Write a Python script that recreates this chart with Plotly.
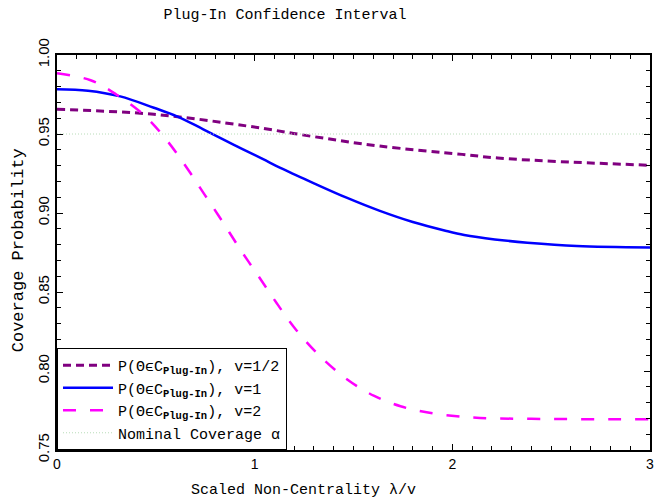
import plotly.graph_objects as go

# ---- data ----
x_half = [0.0, 0.49, 0.965, 1.30, 1.63, 2.05, 2.23, 2.55, 3.0]
y_half = [0.9656, 0.9625, 0.9550, 0.9483, 0.9424, 0.9371, 0.9348, 0.9325, 0.9302]

x_one = [0.0, 0.157, 0.32, 0.49, 0.607, 0.74, 0.89, 1.04, 1.13, 1.30, 1.465, 1.63,
         1.80, 1.965, 2.06, 2.215, 2.38, 2.63, 3.0]
y_one = [0.9783, 0.9774, 0.9738, 0.9666, 0.9612, 0.9530, 0.9435, 0.9342, 0.9285, 0.9188,
         0.9097, 0.9015, 0.8943, 0.8888, 0.8861, 0.8833, 0.8812, 0.8791, 0.8782]

x_two = [0.0, 0.17, 0.30, 0.44, 0.557, 0.66, 0.75, 0.84, 0.928, 1.018, 1.11, 1.21,
         1.336, 1.47, 1.605, 1.738, 1.87, 2.01, 2.14, 2.4, 3.0]
y_two = [0.9884, 0.9840, 0.9750, 0.9620, 0.9458, 0.9280, 0.9110, 0.8940, 0.8768, 0.8603,
         0.8432, 0.8260, 0.8087, 0.7945, 0.7842, 0.7777, 0.7739, 0.7715, 0.7703, 0.7697, 0.7695]

x_nom = [0.0, 3.0]
y_nom = [0.95, 0.95]

names = ["P(\u0398\u03f5C<sub><b>Plug-In</b></sub>), v=1/2",
         "P(\u0398\u03f5C<sub><b>Plug-In</b></sub>), v=1",
         "P(\u0398\u03f5C<sub><b>Plug-In</b></sub>), v=2",
         "Nominal Coverage \u03b1"]

title_text = "Plug-In Confidence Interval"
xtitle = "Scaled Non-Centrality \u03bb/v"
ytitle = "Coverage Probability"
xtick_vals = [0, 1, 2, 3]
ytick_vals = [0.75, 0.80, 0.85, 0.90, 0.95, 1.00]

MONO = "Liberation Mono"
SANS = "Liberation Sans"

fig = go.Figure()
fig.add_trace(go.Scatter(x=x_half, y=y_half, mode="lines", name=names[0], line_shape="spline",
                         line=dict(color="#800080", width=3, dash="8px,5px")))
fig.add_trace(go.Scatter(x=x_one, y=y_one, mode="lines", name=names[1], line_shape="spline",
                         line=dict(color="#0000ff", width=2.5)))
fig.add_trace(go.Scatter(x=x_two, y=y_two, mode="lines", name=names[2], line_shape="spline",
                         line=dict(color="#ff00ff", width=2.5, dash="13px,14px")))
fig.add_trace(go.Scatter(x=x_nom, y=y_nom, mode="lines", name=names[3],
                         line=dict(color="#b8dcb8", width=1, dash="1px,2px")))

W, H = 654, 501
L, R, T, B = 57, 0, 55, 51
pw, ph = W - L - R, H - T - B

fig.update_layout(
    width=W, height=H,
    margin=dict(l=L, r=R, t=T, b=B),
    paper_bgcolor="white", plot_bgcolor="white",
    title=dict(text=title_text, x=285 / W, xanchor="center", y=1 - 14 / H, yanchor="middle",
               font=dict(family=MONO, size=15, color="black")),
    showlegend=True,
    legend=dict(x=0, y=0, xanchor="left", yanchor="bottom", bgcolor="white",
                bordercolor="black", borderwidth=1,
                font=dict(family=MONO, size=15, color="black"),
                tracegroupgap=0, itemwidth=50),
    xaxis=dict(range=[0, 3.0], tickvals=xtick_vals, ticktext=[str(v) for v in xtick_vals],
               ticklabeloverflow="allow",
               ticks="inside", ticklen=6, tickwidth=1, tickcolor="black",
               showline=True, linecolor="black", linewidth=2, mirror="allticks",
               showgrid=False, zeroline=False,
               tickfont=dict(family=SANS, size=14, color="black"),
               minor=dict(dtick=0.1, ticks="inside", ticklen=4, tickcolor="black", showgrid=False)),
    yaxis=dict(range=[0.75, 1.0], tickvals=ytick_vals, ticktext=["%.2f" % v for v in ytick_vals],
               tickangle=-90, ticklabeloverflow="allow",
               ticks="inside", ticklen=6, tickwidth=1, tickcolor="black",
               showline=True, linecolor="black", linewidth=2, mirror="allticks",
               showgrid=False, zeroline=False,
               tickfont=dict(family=SANS, size=15, color="black"),
               minor=dict(dtick=0.01, ticks="inside", ticklen=4, tickcolor="black", showgrid=False)),
    annotations=[
        dict(text=xtitle, xref="paper", yref="paper", x=(305 - L) / pw, y=(H - B - 490) / ph,
             xanchor="center", yanchor="middle", showarrow=False,
             font=dict(family=MONO, size=15, color="black")),
        dict(text=ytitle, xref="paper", yref="paper", x=(18 - L) / pw, y=(H - B - 250) / ph,
             xanchor="center", yanchor="middle", showarrow=False, textangle=-90,
             font=dict(family=MONO, size=17, color="black")),
    ],
)

fig.write_html("out.html")
